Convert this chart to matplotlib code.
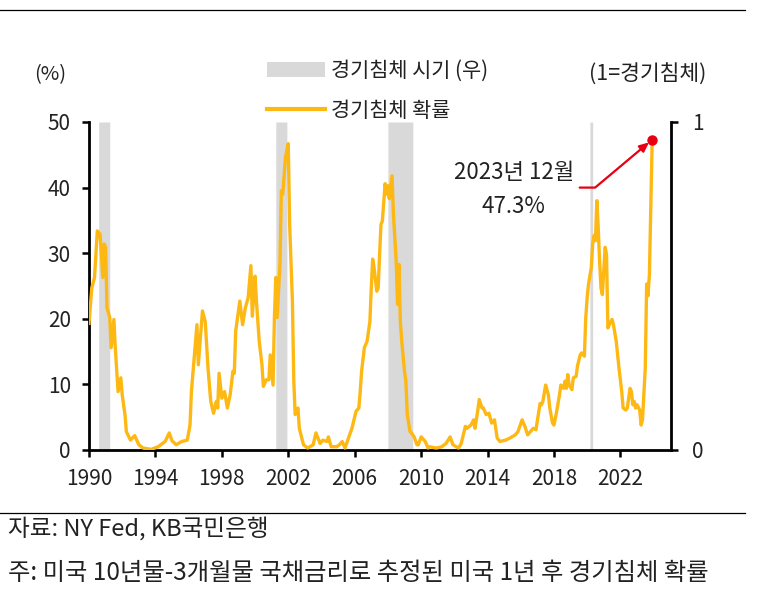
import numpy as np
import matplotlib
matplotlib.use("Agg")
import matplotlib.pyplot as plt
from matplotlib.lines import Line2D
from matplotlib.patches import Patch

plt.rcParams['font.family'] = ['Noto Sans CJK KR', 'DejaVu Sans']
plt.rcParams['font.weight'] = 'light'

# ---- data ----
months = [
    "1990-01", "1990-03", "1990-05", "1990-07", "1990-09", "1990-11", "1990-12",
    "1991-01", "1991-02", "1991-04", "1991-05", "1991-07", "1991-08", "1991-10",
    "1991-12", "1992-01", "1992-03", "1992-04", "1992-07", "1992-10", "1993-01",
    "1993-04", "1993-10", "1994-03", "1994-08", "1994-11", "1995-01", "1995-04",
    "1995-08", "1995-12", "1996-02", "1996-03", "1996-07", "1996-08", "1996-11",
    "1997-01", "1997-03", "1997-05", "1997-07", "1997-09", "1997-10", "1997-11",
    "1998-01", "1998-03", "1998-05", "1998-07", "1998-09", "1998-10", "1998-11",
    "1999-02", "1999-04", "1999-06", "1999-08", "1999-10", "1999-11", "2000-01",
    "2000-02", "2000-04", "2000-06", "2000-07", "2000-09", "2000-11", "2000-12",
    "2001-02", "2001-03", "2001-04", "2001-05", "2001-07", "2001-08", "2001-09",
    "2001-11", "2002-01", "2002-02", "2002-04", "2002-05", "2002-06", "2002-08",
    "2002-09", "2002-12", "2003-03", "2003-07", "2003-09", "2003-12", "2004-02",
    "2004-05", "2004-06", "2004-08", "2004-12", "2005-02", "2005-04", "2005-06",
    "2005-08", "2005-11", "2006-02", "2006-04", "2006-05", "2006-06", "2006-08",
    "2006-10", "2006-12", "2007-01", "2007-02", "2007-03", "2007-05", "2007-06",
    "2007-07", "2007-08", "2007-09", "2007-11", "2007-12", "2008-01", "2008-02",
    "2008-04", "2008-05", "2008-07", "2008-08", "2008-09", "2008-10", "2008-11",
    "2009-01", "2009-02", "2009-03", "2009-05", "2009-06", "2009-08", "2009-10",
    "2009-11", "2010-01", "2010-04", "2010-06", "2010-07", "2010-12", "2011-04",
    "2011-07", "2011-10", "2011-12", "2012-04", "2012-06", "2012-09", "2012-10",
    "2013-01", "2013-03", "2013-04", "2013-06", "2013-07", "2013-09", "2013-10",
    "2013-12", "2014-02", "2014-04", "2014-06", "2014-08", "2014-10", "2015-02",
    "2015-05", "2015-09", "2015-11", "2016-02", "2016-04", "2016-06", "2016-08",
    "2016-10", "2016-12", "2017-03", "2017-04", "2017-05", "2017-07", "2017-09",
    "2017-10", "2017-12", "2018-01", "2018-03", "2018-05", "2018-06", "2018-08",
    "2018-09", "2018-10", "2018-11", "2018-12", "2019-02", "2019-03", "2019-05",
    "2019-06", "2019-08", "2019-09", "2019-11", "2019-12", "2020-01", "2020-02",
    "2020-04", "2020-05", "2020-06", "2020-07", "2020-08", "2020-09", "2020-10",
    "2020-11", "2020-12", "2021-02", "2021-03", "2021-04", "2021-05", "2021-07",
    "2021-08", "2021-10", "2021-11", "2021-12", "2022-02", "2022-03", "2022-05",
    "2022-06", "2022-08", "2022-09", "2022-10", "2022-11", "2022-12", "2023-01",
    "2023-03", "2023-04", "2023-05", "2023-07", "2023-08", "2023-09", "2023-10",
    "2023-11", "2023-12",
]
prob = [
    19.3, 24.7, 26.3, 33.4, 32.9, 26.3, 31.4,
    30.9, 21.7, 20.2, 15.6, 19.9, 15.6, 8.9,
    11.0, 8.4, 5.4, 2.8, 1.5, 2.2, 0.8,
    0.3, 0.1, 0.5, 1.3, 2.6, 1.4, 0.8,
    1.3, 1.5, 3.8, 8.9, 19.1, 13.0, 21.2,
    19.6, 12.5, 7.4, 5.6, 7.4, 6.4, 11.7,
    7.9, 8.9, 6.4, 8.4, 12.0, 11.7, 18.1,
    22.7, 19.1, 21.7, 23.2, 28.1, 20.4, 26.5,
    22.7, 16.6, 13.0, 9.7, 10.7, 10.7, 14.5,
    9.9, 20.2, 26.3, 20.2, 28.3, 39.5, 39.0,
    44.6, 46.7, 34.4, 22.7, 10.5, 5.4, 6.4,
    3.3, 0.8, 0.3, 0.8, 2.6, 1.0, 1.5,
    1.3, 2.0, 0.5, 0.5, 0.8, 1.3, 0.3,
    1.5, 3.3, 5.9, 6.4, 8.9, 12.0, 15.6,
    16.6, 19.6, 24.7, 29.1, 27.8, 24.2, 24.7,
    29.8, 34.4, 34.9, 40.6, 39.0, 40.3, 38.3,
    41.8, 36.0, 28.8, 22.2, 28.3, 19.6, 16.6,
    12.0, 10.5, 5.4, 2.8, 2.6, 2.0, 0.8,
    0.8, 2.0, 1.3, 0.3, 0.5, 0.3, 0.5,
    1.0, 2.0, 0.8, 0.3, 1.0, 3.6, 3.3,
    3.8, 4.6, 3.3, 6.1, 7.7, 6.4, 6.4,
    5.4, 5.6, 4.1, 4.6, 1.8, 1.3, 1.5,
    1.8, 2.3, 2.8, 4.6, 3.6, 2.3, 2.8,
    3.3, 3.1, 7.1, 6.9, 7.4, 9.9, 8.4,
    6.4, 4.1, 3.8, 5.9, 8.4, 9.9, 9.4,
    10.5, 9.4, 11.5, 9.9, 9.2, 11.0, 11.2,
    12.8, 14.5, 14.8, 14.3, 20.2, 23.2, 25.3,
    27.8, 31.4, 32.7, 31.9, 38.0, 33.9, 28.8,
    24.7, 23.7, 30.9, 29.8, 18.6, 19.1, 19.9,
    19.1, 16.6, 14.5, 12.5, 8.9, 6.4, 6.1,
    6.4, 9.4, 8.9, 6.9, 7.4, 6.4, 6.9,
    6.1, 3.8, 4.6, 12.5, 25.3, 23.5, 26.8,
    37.0, 47.3,
]
rec_start = ["1990-08", "2001-04", "2008-01", "2020-03"]
rec_end = ["1991-03", "2001-11", "2009-06", "2020-04"]
year_ticks = [1990, 1994, 1998, 2002, 2006, 2010, 2014, 2018, 2022]

legend_labels = ["경기침체 시기 (우)", "경기침체 확률"]
left_unit = "(%)"
right_unit = "(1=경기침체)"
source_note = "자료: NY Fed, KB국민은행"
footnote = "주: 미국 10년물-3개월물 국채금리로 추정된 미국 1년 후 경기침체 확률"

YELLOW = "#FDB813"
GRAY = "#D9D9D9"
RED = "#E60012"
TXT = "#222222"


def to_year(s):
    y, m = s.split("-")
    return int(y) + (int(m) - 1) / 12.0


x = np.array([to_year(s) for s in months])
y = np.array(prob)

# monthly recession indicator built from the period lists
grid = np.arange(1990 * 12, 2024 * 12 + 1) / 12.0
rec = np.zeros_like(grid)
for s, e in zip(rec_start, rec_end):
    a, b = to_year(s), to_year(e)
    rec[(grid >= a - 1e-6) & (grid <= b + 1e-6)] = 1.0

fig = plt.figure(figsize=(7.7, 5.98), dpi=100)
W, H = 770.0, 598.0
ax = fig.add_axes([89 / W, 1 - 450 / H, (671 - 89) / W, (450 - 122) / H])
ax2 = ax.twinx()

ax2.fill_between(grid, 0, rec, step="post", color=GRAY, linewidth=0)
ax2.set_ylim(0, 1)
ax2.set_yticks([0, 1])
ax2.set_yticklabels(["0", "1"])

ax.set_zorder(ax2.get_zorder() + 1)
ax.patch.set_visible(False)

ax.plot(x, y, color=YELLOW, lw=2.4, solid_joinstyle="round", zorder=3)
ax.set_xlim(1990, 2025.05)
ax.set_ylim(0, 50)
ax.set_yticks([0, 10, 20, 30, 40, 50])
ax.set_xticks(year_ticks)
ax.set_xticklabels([str(t) for t in year_ticks])

for a in (ax, ax2):
    a.spines["top"].set_visible(False)
    for side in ("left", "right", "bottom"):
        a.spines[side].set_linewidth(2.0)
        a.spines[side].set_color("black")
    a.tick_params(direction="out", length=5, width=1.8, labelsize=15,
                  labelcolor=TXT, color="black")
ax.spines["right"].set_visible(False)
ax2.spines["left"].set_visible(False)
ax2.spines["bottom"].set_visible(False)
ax.tick_params(axis="y", pad=8)
ax.tick_params(axis="x", pad=8)
ax2.tick_params(axis="y", pad=10)

# annotation for last point
last_y, last_m = months[-1].split("-")
ax.plot(x[-1], y[-1], "o", color=RED, ms=6.5, zorder=5)
ax.annotate("", xy=(x[-1], y[-1]), xytext=(2019.55, 40.0),
            arrowprops=dict(arrowstyle="-|>,head_length=0.55,head_width=0.25",
                            color=RED, lw=1.6, shrinkA=0, shrinkB=3,
                            connectionstyle="angle,angleA=0,angleB=40,rad=0"),
            zorder=4)
ax.text(2015.58, 39.7, f"{int(last_y)}년 {int(last_m)}월\n{y[-1]:.1f}%",
        ha="center", va="center", multialignment="center", linespacing=1.6,
        fontsize=16, color=TXT)

# legend
handles = [Patch(facecolor=GRAY, edgecolor="none"),
           Line2D([], [], color=YELLOW, lw=3)]
fig.legend(handles, legend_labels, loc="upper left",
           bbox_to_anchor=(267 / W, 1 - 60 / H), frameon=False,
           fontsize=15, handlelength=2.8, handleheight=0.75,
           handletextpad=0.25, labelspacing=0.85, borderpad=0,
           borderaxespad=0, labelcolor=TXT)

fig.text(50 / W, 1 - 75 / H, left_unit, ha="center", va="center",
         fontsize=14.5, color=TXT)
fig.text(648 / W, 1 - 75 / H, right_unit, ha="center", va="center",
         fontsize=15.5, color=TXT)

# rules and notes
fig.add_artist(Line2D([0, 745 / W], [1 - 10 / H] * 2, color="black", lw=0.9))
fig.add_artist(Line2D([0, 745 / W], [1 - 513 / H] * 2, color="black", lw=0.9))
fig.text(8 / W, 1 - 529 / H, source_note, ha="left", va="center",
         fontsize=17, color=TXT)
fig.text(8 / W, 1 - 573 / H, footnote, ha="left", va="center",
         fontsize=17.5, color=TXT)

fig.savefig("out.png", dpi=100)
